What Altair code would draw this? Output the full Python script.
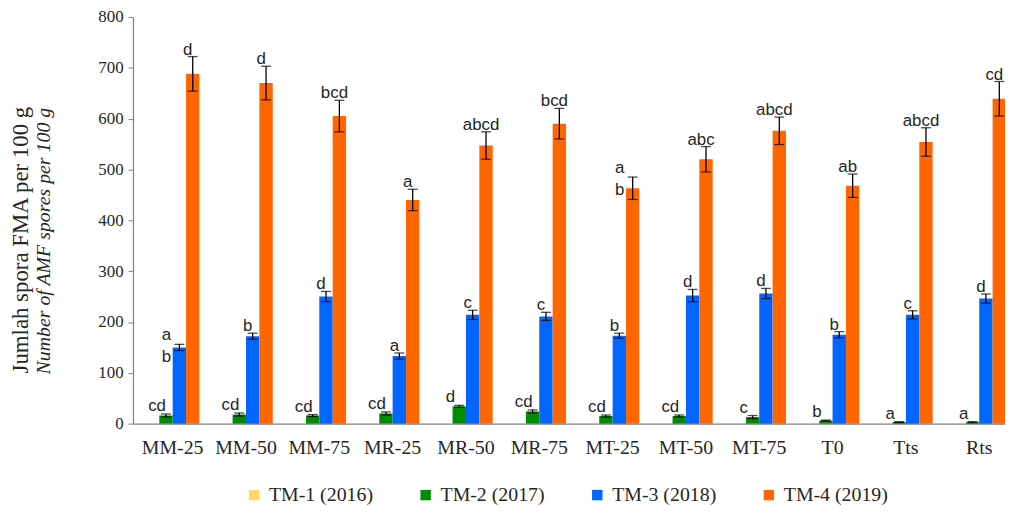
import altair as alt
import pandas as pd

categories = ["MM-25", "MM-50", "MM-75", "MR-25", "MR-50", "MR-75",
              "MT-25", "MT-50", "MT-75", "T0", "Tts", "Rts"]
series = ["TM-1 (2016)", "TM-2 (2017)", "TM-3 (2018)", "TM-4 (2019)"]
colors = ["#FFD966", "#008C00", "#0066FF", "#FF6600"]

tm1_values = [0, 0, 0, 0, 0, 0, 0, 0, 0, 0, 0, 0]
tm1_err = [0, 0, 0, 0, 0, 0, 0, 0, 0, 0, 0, 0]
tm1_labels = ["", "", "", "", "", "", "", "", "", "", "", ""]

tm2_values = [16, 18, 16, 20, 34, 24, 15, 15, 13, 6, 3, 3]
tm2_err = [3, 3, 2, 3, 2, 3, 2, 2, 3, 1, 1, 1]
tm2_labels = ["cd", "cd", "cd", "cd", "d", "cd", "cd", "cd", "c", "b", "a", "a"]

tm3_values = [150, 172, 250, 133, 214, 211, 173, 252, 256, 175, 214, 246]
tm3_err = [6, 6, 10, 6, 9, 8, 5, 12, 10, 6, 8, 9]
tm3_labels = ["a\nb", "b", "d", "a", "c", "c", "b", "d", "d", "b", "c", "d"]

tm4_values = [688, 670, 605, 440, 547, 590, 463, 520, 576, 468, 554, 639]
tm4_err = [34, 33, 31, 21, 27, 30, 22, 25, 27, 23, 28, 34]
tm4_labels = ["d", "d", "bcd", "a", "abcd", "bcd", "a\nb", "abc", "abcd", "ab", "abcd", "cd"]

title_line1 = "Jumlah spora FMA per 100 g"
title_line2 = "Number of AMF spores per 100 g"

all_values = [tm1_values, tm2_values, tm3_values, tm4_values]
all_err = [tm1_err, tm2_err, tm3_err, tm4_err]
all_labels = [tm1_labels, tm2_labels, tm3_labels, tm4_labels]

rows = []
for s, vals, errs, labs in zip(series, all_values, all_err, all_labels):
    for c, v, e, l in zip(categories, vals, errs, labs):
        rows.append({"category": c, "series": s, "value": v, "err": e,
                     "low": v - e, "high": v + e, "label": l})
df = pd.DataFrame(rows)

x_enc = alt.X("category:N", sort=categories,
              scale=alt.Scale(paddingInner=0.27, paddingOuter=0.176),
              axis=alt.Axis(title=None, labelAngle=0, labelFont="Liberation Serif",
                            labelFontSize=20, labelColor="#262626", ticks=False,
                            labelPadding=14, domainColor="#808080", domainWidth=1.2))
xo_enc = alt.XOffset("series:N", sort=series, scale=alt.Scale(domain=series))

base = alt.Chart(df).encode(x=x_enc, xOffset=xo_enc)

bars = base.mark_bar().encode(
    y=alt.Y("value:Q", scale=alt.Scale(domain=[0, 800], nice=False),
            axis=alt.Axis(title=None, values=[0, 100, 200, 300, 400, 500, 600, 700, 800],
                          labelFont="Liberation Serif", labelFontSize=17,
                          labelColor="#262626", tickSize=5, tickColor="#808080",
                          domainColor="#808080", domainWidth=1.2, grid=False,
                          labelPadding=5)),
    color=alt.Color("series:N", sort=series,
                    scale=alt.Scale(domain=series, range=colors),
                    legend=alt.Legend(title=None, orient="none", legendX=112, legendY=472,
                                      direction="horizontal", columns=4,
                                      symbolType="square", symbolSize=110,
                                      symbolStrokeWidth=0, labelFont="Liberation Serif",
                                      labelFontSize=20, labelColor="#262626",
                                      labelOffset=5, columnPadding=43, padding=0)),
)

eb = base.transform_filter(alt.datum.err > 0)
rule = eb.mark_rule(color="black", strokeWidth=1.3).encode(y="low:Q", y2="high:Q")
cap_hi = eb.mark_tick(color="black", size=10, thickness=1.3, orient="horizontal").encode(y="high:Q")
cap_lo = eb.mark_tick(color="black", size=10, thickness=1.3, orient="horizontal").encode(y="low:Q")

lab = base.transform_filter(alt.datum.label != "")
lab_green = lab.transform_filter(alt.datum.series == series[1]).mark_text(
    font="Liberation Sans", fontSize=17, baseline="alphabetic", align="center",
    dx=-9, dy=-3, color="#262626").encode(y="high:Q", text="label:N")
lab_single = lab.transform_filter(
    (alt.datum.series != series[1]) & (alt.expr.indexof(alt.datum.label, "\n") < 0)
).mark_text(
    font="Liberation Sans", fontSize=17, baseline="alphabetic", align="center",
    dx=-5, dy=-2, color="#262626").encode(y="high:Q", text="label:N")
lab_multi = lab.transform_filter(
    (alt.datum.series != series[1]) & (alt.expr.indexof(alt.datum.label, "\n") >= 0)
).mark_text(
    font="Liberation Sans", fontSize=17, baseline="alphabetic", align="center",
    dx=-13, dy=-4, lineBreak="\n", lineHeight=22, color="#262626").encode(
    y="high:Q", text="label:N")

t1 = alt.Chart(pd.DataFrame({"t": [title_line1]})).mark_text(
    angle=270, font="Liberation Serif", fontSize=23, align="center",
    baseline="alphabetic", color="#262626").encode(
    x=alt.value(-106), y=alt.value(225), text="t:N")
t2 = alt.Chart(pd.DataFrame({"t": [title_line2]})).mark_text(
    angle=270, font="Liberation Serif", fontSize=20, fontStyle="italic", align="center",
    baseline="alphabetic", color="#262626").encode(
    x=alt.value(-84), y=alt.value(226), text="t:N")

chart = alt.layer(bars, rule, cap_hi, cap_lo, lab_green, lab_single, lab_multi, t1, t2).properties(
    width=893, height=410,
    autosize=alt.AutoSizeParams(type="none"),
    padding={"left": 126, "top": 7, "right": -14, "bottom": 80},
).configure_view(stroke=None)

chart.save("out.html", embed_options={"renderer": "svg", "actions": False})
